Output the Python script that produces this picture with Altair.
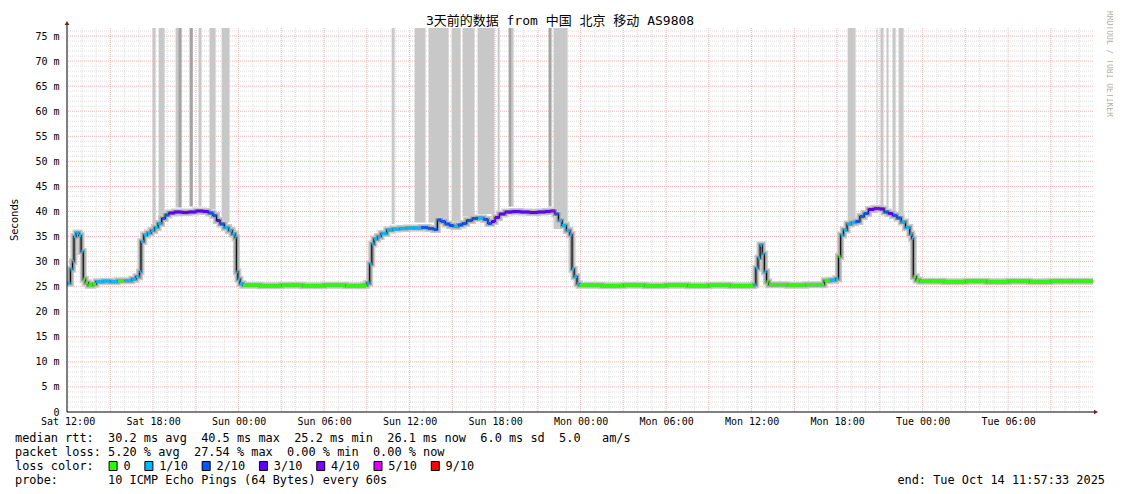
import altair as alt
import pandas as pd

# ------------------------------------------------------------------ data
TITLE = "3天前的数据 from 中国 北京 移动 AS9808"
X_TICK_HOURS = [0, 6, 12, 18, 24, 30, 36, 42, 48, 54, 60, 66]
X_TICK_LABELS = ["Sat 12:00", "Sat 18:00", "Sun 00:00", "Sun 06:00", "Sun 12:00", "Sun 18:00",
                 "Mon 00:00", "Mon 06:00", "Mon 12:00", "Mon 18:00", "Tue 00:00", "Tue 06:00"]
Y_TICKS = [0, 5, 10, 15, 20, 25, 30, 35, 40, 45, 50, 55, 60, 65, 70, 75]

# median rtt (ms) at hours after Sat 12:00, with packet-loss bucket index
MED_H = [-0.04, 0.2, 0.35, 0.45, 0.6, 0.8, 0.95, 1.1, 1.25, 1.45, 1.75, 2.0, 2.5, 3.0, 3.5, 4.0, 4.5, 4.8,
         5.05, 5.15, 5.35, 5.6, 5.85, 6.1, 6.35, 6.6, 6.85, 7.1, 7.5, 8.0, 8.5, 9.0, 9.5, 9.9, 10.2, 10.45,
         10.7, 11.0, 11.3, 11.55, 11.75, 11.85, 11.95, 12.1, 12.3, 13.5, 15.0, 16.5, 18.0, 19.5, 20.8,
         21.0, 21.2, 21.35, 21.5, 21.75, 22.0, 22.4, 22.8, 23.3, 23.8, 24.3, 24.8, 25.3, 25.7, 25.95,
         26.2, 26.5, 26.8, 27.1, 27.4, 27.7, 28.0, 28.4, 28.8, 29.2, 29.5, 29.75, 30.0, 30.3, 30.7,
         31.2, 31.8, 32.4, 33.0, 33.5, 33.9, 34.2, 34.45, 34.7, 35.0, 35.25, 35.4, 35.55, 35.75, 35.9,
         37.5, 39.0, 40.5, 42.0, 43.5, 45.0, 46.5, 48.15, 48.3, 48.45, 48.6, 48.75, 48.9, 49.05, 49.2,
         50.5, 51.8, 53.1, 53.5, 53.9, 54.1, 54.25, 54.45, 54.7, 55.0, 55.3, 55.6, 55.9, 56.2, 56.6,
         57.0, 57.3, 57.6, 57.9, 58.2, 58.5, 58.8, 59.1, 59.25, 59.35, 59.55, 59.8, 61.5, 63.0, 64.5,
         66.0, 67.5, 69.0, 70.5, 71.96]
MED_V = [25.7, 28.5, 30.0, 35.0, 35.7, 35.2, 32.0, 26.5, 25.8, 25.3, 25.5, 26.0, 26.1, 26.0, 26.2, 26.2,
         26.5, 27.0, 28.0, 34.0, 35.3, 35.7, 36.2, 36.8, 37.6, 38.6, 39.3, 39.7, 39.9, 39.8, 39.9, 40.1,
         40.0, 39.7, 39.2, 38.2, 37.5, 36.8, 36.2, 35.5, 34.8, 28.0, 26.5, 25.6, 25.3, 25.2, 25.3, 25.2,
         25.3, 25.2, 25.3, 25.7, 29.5, 33.5, 34.5, 35.0, 35.6, 36.3, 36.5, 36.6, 36.7, 36.7, 36.8, 36.6,
         36.4, 38.3, 38.0, 37.5, 37.2, 37.0, 37.3, 37.6, 38.2, 38.6, 38.7, 38.4, 37.6, 38.0, 38.8, 39.5,
         39.9, 40.0, 39.9, 39.8, 39.9, 40.0, 40.1, 39.5, 38.2, 37.2, 36.2, 35.4, 28.5, 27.0, 25.6, 25.3,
         25.2, 25.3, 25.2, 25.3, 25.2, 25.3, 25.2, 25.4, 28.7, 30.7, 33.3, 31.5, 28.0, 26.0, 25.4, 25.3,
         25.4, 26.2, 26.3, 26.6, 31.0, 35.3, 36.3, 37.5, 37.8, 38.0, 39.0, 39.6, 40.4, 40.6, 40.5, 39.9,
         39.6, 39.2, 38.7, 37.9, 36.8, 35.5, 34.6, 27.0, 26.3, 26.1, 26.0, 26.1, 26.0, 26.1, 26.0, 26.1,
         26.1, 26.1]
MED_LOSS = [1, 1, 1, 1, 1, 1, 1, 0, 0, 0, 0, 1, 1, 1, 0, 1, 1, 1, 1, 1, 1, 1, 1, 1, 1, 2, 2, 3, 3, 3,
            3, 3, 3, 2, 2, 3, 2, 1, 1, 1, 1, 1, 1, 1, 0, 0, 0, 0, 0, 0, 0, 1, 1, 1, 1, 1, 1, 1, 1, 1,
            1, 1, 2, 2, 2, 2, 2, 2, 2, 1, 2, 2, 2, 2, 1, 2, 2, 3, 3, 3, 3, 3, 3, 3, 3, 3, 4, 2, 1, 1,
            1, 1, 1, 1, 1, 0, 0, 0, 0, 0, 0, 0, 0, 1, 1, 1, 1, 1, 1, 0, 0, 0, 0, 0, 1, 1, 0, 1, 1, 1,
            1, 2, 2, 2, 3, 4, 3, 2, 3, 2, 2, 1, 1, 1, 1, 0, 0, 0, 0, 0, 0, 0, 0, 0, 0, 0]

LOSS_LABELS = ["0", "1/10", "2/10", "3/10", "4/10", "5/10", "9/10"]
LOSS_COLORS = ["#26ff00", "#00b8ff", "#0059ff", "#5e00ff", "#7e00ff", "#dd00ff", "#ff0000"]

# tall smoke columns (ping max beyond the chart): start/end hour, lower value, shade (0 light, 1 dark)
BAR_START = [5.96, 6.39, 7.58, 7.77, 8.56, 9.19, 9.96, 10.81, 22.74, 24.35, 25.33, 26.95, 27.72, 28.77,
             30.18, 30.95, 31.16, 33.75, 34.10, 54.74, 56.77, 57.05, 57.47, 57.89, 58.32]
BAR_END = [6.18, 6.81, 7.77, 8.00, 8.79, 9.40, 10.39, 11.37, 22.95, 25.12, 26.74, 27.58, 28.56, 29.96,
           30.32, 31.16, 31.30, 33.96, 35.09, 55.30, 56.84, 57.26, 57.61, 58.11, 58.67]
BAR_BOTTOM = [37.5, 39.0, 40.8, 40.8, 41.0, 41.0, 40.5, 37.8, 37.5, 37.8, 37.8, 38.0, 39.0, 39.5,
              40.0, 41.0, 41.0, 41.0, 36.5, 38.5, 41.5, 41.0, 40.5, 40.0, 38.5]
BAR_SHADE = [0, 0, 0, 1, 1, 0, 0, 0, 0, 0, 0, 0, 0, 0, 0, 1, 0, 1, 0, 0, 0, 0, 0, 0, 0]

RTT_LINE = "median rtt:  30.2 ms avg  40.5 ms max  25.2 ms min  26.1 ms now  6.0 ms sd  5.0   am/s"
LOSSP_LINE = "packet loss: 5.20 % avg  27.54 % max  0.00 % min  0.00 % now"
LOSSC_LABEL = "loss color:"
PROBE_LINE = "probe:       10 ICMP Echo Pings (64 Bytes) every 60s"
END_LINE = "end: Tue Oct 14 11:57:33 2025"
WATERMARK = "RRDTOOL / TOBI OETIKER"
Y_TITLE = "Seconds"

# ------------------------------------------------------------------ layout
W, H = 1026, 384
X0, X1 = -0.041, 71.959
Y1 = 76.6
MONO = "DejaVu Sans Mono"
NB = "\u00a0"


def nb(s):
    return s.replace(" ", NB)


xscale = alt.Scale(domain=[X0, X1], nice=False, zero=False)
yscale = alt.Scale(domain=[0, Y1], nice=False, zero=True)
label_expr = "[" + ",".join("'%s'" % l for l in X_TICK_LABELS) + "][round(datum.value/6)]"
xaxis = alt.Axis(values=X_TICK_HOURS, labelExpr=label_expr, title=None, grid=False, domain=False,
                 ticks=False, labelFont=MONO, labelFontSize=10, labelColor="#000000", labelPadding=4,
                 labelFlush=False, labelOverlap=False)
yaxis = alt.Axis(values=Y_TICKS, labelExpr="datum.value == 0 ? '0' : datum.value + ' m'", title=None,
                 grid=False, domain=False, ticks=False, labelFont=MONO, labelFontSize=10,
                 labelColor="#000000", labelPadding=8)


def X(f):
    return alt.X(f + ":Q", scale=xscale, axis=xaxis)


def Y(f):
    return alt.Y(f + ":Q", scale=yscale, axis=yaxis)


one = alt.Data(values=[{"a": 1}])
layers = []

# grid
minor_h = pd.DataFrame({"h": [h for h in range(1, 72) if h % 3]})
major_h = pd.DataFrame({"h": list(range(3, 72, 3))})
minor_v = pd.DataFrame({"v": [v for v in range(1, 77) if v % 5]})
major_v = pd.DataFrame({"v": list(range(5, 80, 5))})
layers.append(alt.Chart(minor_v).mark_rule(color="#dedede", strokeDash=[1, 1], strokeWidth=1).encode(y=Y("v")))
layers.append(alt.Chart(minor_h).mark_rule(color="#dedede", strokeDash=[1, 1], strokeWidth=1).encode(x=X("h")))
layers.append(alt.Chart(major_v).mark_rule(color="#f3b4b4", strokeDash=[1, 1], strokeWidth=1).encode(y=Y("v")))
layers.append(alt.Chart(major_h).mark_rule(color="#f3b4b4", strokeDash=[1, 1], strokeWidth=1).encode(x=X("h")))

# tall smoke columns
bars = pd.DataFrame({"h": BAR_START, "h2": BAR_END, "v": BAR_BOTTOM, "shade": BAR_SHADE})
for shade_val, shade_col in [(0, "#c8c8c8"), (1, "#a4a4a4")]:
    layers.append(alt.Chart(bars).transform_filter(alt.datum.shade == shade_val).mark_rect(color=shade_col).encode(
        x=X("h"), x2="h2:Q", y=Y("v"), y2=alt.value(0)))

# median + smoke
med = pd.DataFrame({"h": MED_H, "v": MED_V, "loss": [LOSS_LABELS[i] for i in MED_LOSS]})
layers.append(alt.Chart(med).mark_line(interpolate="step-after", color="#cacaca", strokeWidth=7).encode(x=X("h"), y=Y("v")))
layers.append(alt.Chart(med).mark_line(interpolate="step-after", color="#999999", strokeWidth=4).encode(x=X("h"), y=Y("v")))
layers.append(alt.Chart(med).mark_line(interpolate="step-after", color="#111111", strokeWidth=1.2).encode(x=X("h"), y=Y("v")))
seg = med.copy()
seg["h2"] = seg["h"].shift(-1)
seg = seg.iloc[:-1]
layers.append(alt.Chart(seg).mark_rule(strokeWidth=3).encode(
    x=X("h"), x2="h2:Q", y=Y("v"),
    color=alt.Color("loss:N", scale=alt.Scale(domain=LOSS_LABELS, range=LOSS_COLORS), legend=None)))

# axis lines and arrows
layers.append(alt.Chart(one).mark_rule(color="#000000", strokeWidth=1).encode(
    x=alt.value(0), x2=alt.value(W + 2), y=alt.value(H)))
layers.append(alt.Chart(one).mark_rule(color="#000000", strokeWidth=1).encode(
    x=alt.value(0), y=alt.value(H), y2=alt.value(-4)))
layers.append(alt.Chart(one).mark_point(shape="triangle-right", filled=True, color="#7a1c1c", size=22, opacity=1).encode(
    x=alt.value(W + 3), y=alt.value(H)))
layers.append(alt.Chart(one).mark_point(shape="triangle-up", filled=True, color="#7a1c1c", size=22, opacity=1).encode(
    x=alt.value(0), y=alt.value(-5)))


# texts
def txt(s, x, y, size=11.9, align="left", angle=0, color="#000000", font=MONO):
    kw = dict(text=s, font=font, fontSize=size, align=align, baseline="middle", color=color)
    if angle:
        kw["angle"] = angle
    return alt.Chart(one).mark_text(**kw).encode(x=alt.value(x), y=alt.value(y))


CW = 7.16       # character advance for the legend mono font
LX = -52        # legend left edge (plot coords)
layers.append(txt(TITLE, 493, -7, size=13, align="center", font="DejaVu Sans Mono, Noto Sans CJK SC"))
layers.append(txt(WATERMARK, 1042, 36, size=8, align="center", angle=90, color="#b0b0b0"))
layers.append(txt(Y_TITLE, -52, 192, size=10, align="center", angle=270, font="DejaVu Sans"))
layers.append(txt(nb(RTT_LINE), LX, 410))
layers.append(txt(nb(LOSSP_LINE), LX, 424))
layers.append(txt(nb(LOSSC_LABEL), LX, 438))
layers.append(txt(nb(PROBE_LINE), LX, 452))
layers.append(txt(nb(END_LINE), 1038, 452, align="right"))

pos = 13
for lab, col in zip(LOSS_LABELS, LOSS_COLORS):
    bx = LX + pos * CW + 1
    layers.append(alt.Chart(one).mark_rect(fill=col, stroke="#000000", strokeWidth=1).encode(
        x=alt.value(bx), x2=alt.value(bx + 8), y=alt.value(438 - 4.5), y2=alt.value(438 + 4.5)))
    layers.append(txt(lab, LX + (pos + 2) * CW + 1, 438))
    pos = pos + 2 + len(lab) + 2

chart = alt.layer(*layers).properties(
    width=W, height=H,
    padding={"left": 59, "top": 20, "right": 20, "bottom": 82},
    autosize=alt.AutoSizeParams(type="none"),
).configure_view(stroke=None)

chart.save("out.html", embed_options={"renderer": "svg", "actions": False})
